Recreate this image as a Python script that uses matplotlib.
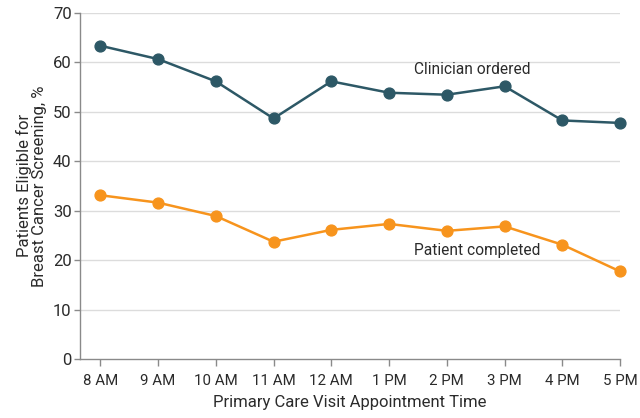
import matplotlib
matplotlib.use("Agg")
import matplotlib.pyplot as plt
from matplotlib import font_manager

# Narrow sans if we have one, otherwise Roboto
names = {f.name for f in font_manager.fontManager.ttflist}
FONT = "Liberation Sans Narrow" if "Liberation Sans Narrow" in names else "Roboto"
plt.rcParams["font.family"] = [FONT, "DejaVu Sans"]

TIMES = ["8 AM", "9 AM", "10 AM", "11 AM", "12 AM", "1 PM", "2 PM", "3 PM", "4 PM", "5 PM"]
CLINICIAN = [63.3, 60.6, 56.1, 48.6, 56.1, 53.8, 53.4, 55.1, 48.2, 47.7]
PATIENT = [33.1, 31.6, 28.9, 23.7, 26.1, 27.3, 25.9, 26.8, 23.1, 17.7]

TEAL = "#2d5866"
ORANGE = "#f7941d"
TEXT = "#2b2b2b"
AXIS = "#8a8a8a"

fig = plt.figure(figsize=(6.4, 4.18), dpi=100)
ax = fig.add_axes([0.125, 0.141, 0.844, 0.829])

x = list(range(len(TIMES)))
ax.plot(x, CLINICIAN, color=TEAL, lw=1.8, marker="o", ms=7.8, clip_on=False, zorder=3)
ax.plot(x, PATIENT, color=ORANGE, lw=1.8, marker="o", ms=7.8, clip_on=False, zorder=3)

ax.text(5.43, 58.5, "Clinician ordered", fontsize=11.2, color=TEXT, va="center", ha="left")
ax.text(5.43, 22.0, "Patient completed", fontsize=11.2, color=TEXT, va="center", ha="left")

ax.set_xlim(-0.35, 9.0)
ax.set_ylim(0, 70)
ax.set_xticks(x)
ax.set_xticklabels(TIMES)
ax.set_yticks(range(0, 71, 10))

for y in range(10, 71, 10):
    ax.axhline(y, color="#dcdcdc", lw=1.0, zorder=1)

for side in ["top", "right"]:
    ax.spines[side].set_visible(False)
for side in ["left", "bottom"]:
    ax.spines[side].set_color(AXIS)
    ax.spines[side].set_linewidth(1.0)

ax.tick_params(axis="x", colors=AXIS, length=5, width=1.0, labelcolor=TEXT, labelsize=10.8, pad=6)
ax.tick_params(axis="y", colors=AXIS, length=4, width=1.0, labelcolor=TEXT, labelsize=12, pad=2)

ax.set_xlabel("Primary Care Visit Appointment Time", fontsize=12, color=TEXT, labelpad=5)
ax.set_ylabel("Patients Eligible for\nBreast Cancer Screening, %", fontsize=12, color=TEXT,
              labelpad=4, linespacing=1.0)

fig.savefig("out.png", dpi=100)
